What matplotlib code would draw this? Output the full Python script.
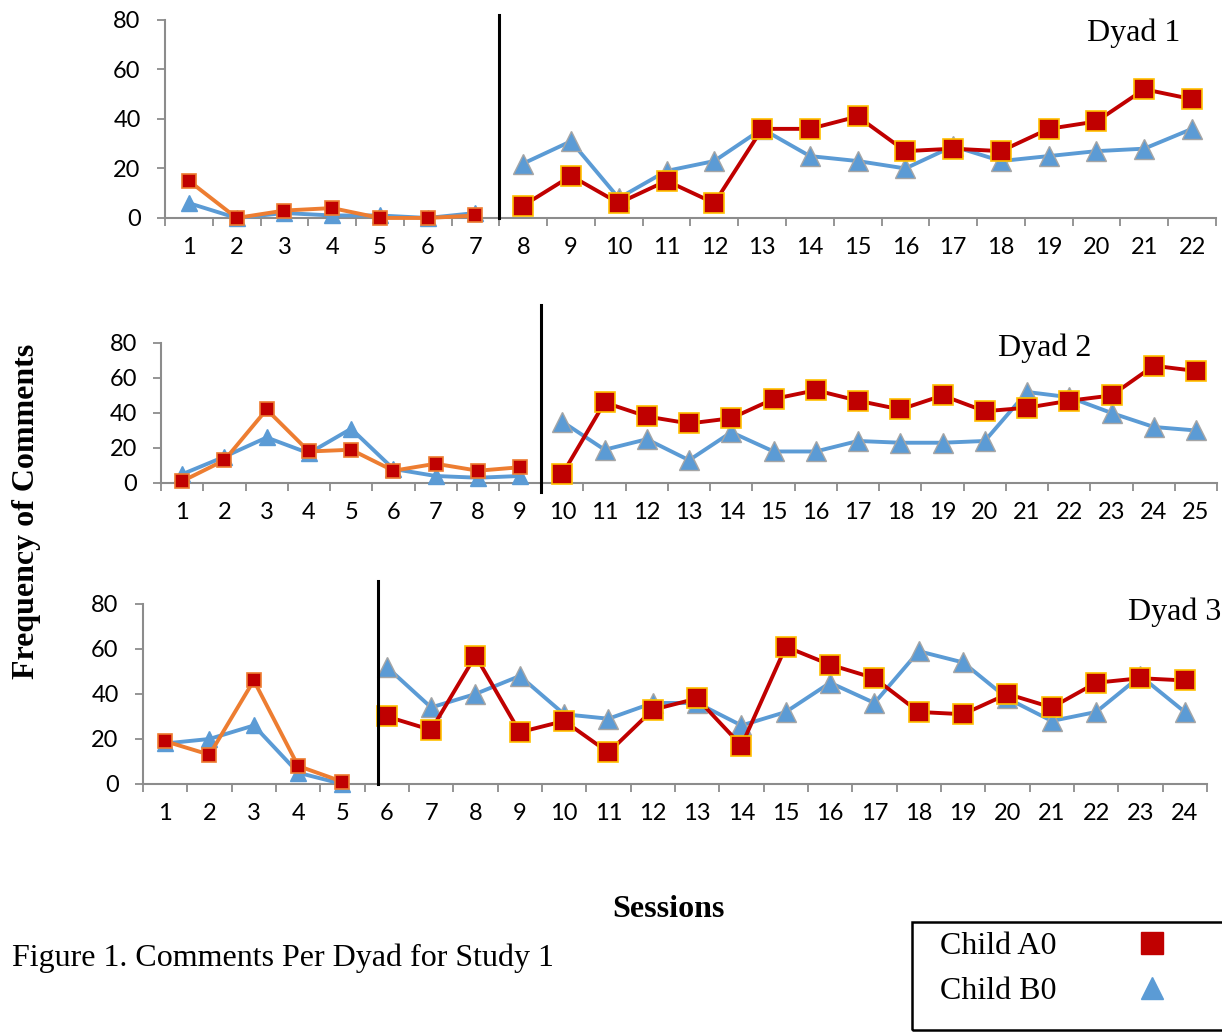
import matplotlib
matplotlib.use('Agg')
from matplotlib import pyplot as plt
from matplotlib.lines import Line2D
from matplotlib.patches import Rectangle
import numpy as np

# comments per session, child A (squares) and child B (triangles)
dyad1_a = [15, 0, 3, 4, 0, 0, 1, 5, 17, 6, 15, 6, 36, 36, 41, 27, 28, 27, 36, 39, 52, 48]
dyad1_b = [6, 0, 2, 1, 1, 0, 2, 22, 31, 8, 19, 23, 36, 25, 23, 20, 29, 23, 25, 27, 28, 36]
dyad2_a = [1, 13, 42, 18, 19, 7, 11, 7, 9, 5, 46, 38, 34, 37, 48, 53, 47, 42, 50, 41, 43, 47, 50, 67, 64]
dyad2_b = [5, 15, 26, 17, 31, 8, 4, 3, 4, 35, 19, 25, 13, 29, 18, 18, 24, 23, 23, 24, 52, 49, 40, 32, 30]
dyad3_a = [19, 13, 46, 8, 1, 30, 24, 57, 23, 28, 14, 33, 38, 17, 61, 53, 47, 32, 31, 40, 34, 45, 47, 46]
dyad3_b = [18, 20, 26, 5, 0, 52, 34, 40, 48, 31, 29, 36, 36, 26, 32, 45, 36, 59, 54, 38, 28, 32, 48, 32]

baseline_sessions = [7, 9, 5]
phase_change = [7.5, 9.5, 5.8]
dyad_names = ['Dyad 1', 'Dyad 2', 'Dyad 3']
series_names = ['Child A0', 'Child B0']

orange = '#ED7D31'
dark_red = '#C00000'
blue = '#5B9BD5'
gold = '#FFC000'
grey = '#8C8C8C'
serif = 'Liberation Serif'

plt.rcParams['font.family'] = ['Lato', 'DejaVu Sans']

fig = plt.figure(figsize=(12.22, 10.34), dpi=100)

# axes boxes in figure fraction
boxes = [
    [0.135, 0.7892, 0.860, 0.1915],
    [0.1318, 0.5329, 0.8642, 0.1354],
    [0.117, 0.2418, 0.8707, 0.1741],
]
# phase line extent (axes fraction) and dyad label position (figure fraction)
vline_span = [(0.0, 1.025), (-0.064, 1.27), (0.0, 1.13)]
label_pos = [(0.928, 0.968), (0.855, 0.663), (0.9615, 0.408)]

def draw_dyad(ax, a, b, n_base, split):
    a = np.array(a)
    b = np.array(b)
    x = np.arange(1, len(a) + 1)
    # baseline
    ax.plot(x[:n_base], b[:n_base], color=blue, lw=2.8, marker='^', ms=12,
            mfc=blue, mec=blue, clip_on=False, zorder=3)
    ax.plot(x[:n_base], a[:n_base], color=orange, lw=2.8, marker='s', ms=9.5,
            mfc=dark_red, mec=orange, mew=1.2, clip_on=False, zorder=4)
    # intervention
    ax.plot(x[n_base:], b[n_base:], color=blue, lw=2.8, marker='^', ms=14.5,
            mfc=blue, mec='#A5A5A5', mew=1, clip_on=False, zorder=3)
    ax.plot(x[n_base:], a[n_base:], color=dark_red, lw=2.8, marker='s', ms=14,
            mfc=dark_red, mec=gold, mew=1.2, clip_on=False, zorder=4)

    ax.set_xlim(0.5, len(a) + 0.5)
    ax.set_ylim(0, 80)
    ax.set_yticks([0, 20, 40, 60, 80])
    ax.set_xticks(x)
    ax.set_xticks(np.arange(0.5, len(a) + 1), minor=True)
    ax.tick_params(axis='x', which='major', length=0, pad=14, labelsize=17)
    ax.tick_params(axis='x', which='minor', length=5.5, width=1.3, color=grey)
    ax.tick_params(axis='y', length=5.5, width=1.3, color=grey, pad=12, labelsize=17)
    for s in ['top', 'right']:
        ax.spines[s].set_visible(False)
    for s in ['left', 'bottom']:
        ax.spines[s].set_color(grey)
        ax.spines[s].set_linewidth(1.5)
    return ax

all_a = [dyad1_a, dyad2_a, dyad3_a]
all_b = [dyad1_b, dyad2_b, dyad3_b]
for i in range(3):
    ax = fig.add_axes(boxes[i])
    draw_dyad(ax, all_a[i], all_b[i], baseline_sessions[i], phase_change[i])
    lo, hi = vline_span[i]
    ax.axvline(phase_change[i], ymin=lo, ymax=hi, color='black', lw=2.2, clip_on=False, zorder=5)
    fig.text(label_pos[i][0], label_pos[i][1], dyad_names[i], family=serif,
             fontsize=23, ha='center', va='center')

fig.text(0.022, 0.505, 'Frequency of Comments', family=serif, fontsize=23,
         fontweight='bold', rotation=90, ha='center', va='center')
fig.text(0.547, 0.120, 'Sessions', family=serif, fontsize=23, fontweight='bold',
         ha='center', va='center')
fig.text(0.010, 0.073, 'Figure 1. Comments Per Dyad for Study 1', family=serif,
         fontsize=23, ha='left', va='center')

# legend box
fig.add_artist(Rectangle((0.7463, 0.004), 0.27, 0.1044, transform=fig.transFigure,
                         fill=False, edgecolor='black', lw=1.8))
handles = [
    Line2D([], [], ls='none', marker='s', ms=15.5, mfc=dark_red, mec=dark_red),
    Line2D([], [], ls='none', marker='^', ms=16, mfc=blue, mec=blue),
]
fig.legend(handles, series_names, loc='upper left', bbox_to_anchor=(0.769, 0.099),
           frameon=False, markerfirst=False, borderpad=0, borderaxespad=0,
           handlelength=2.0, handletextpad=2.0, labelspacing=0.5,
           prop={'family': serif, 'size': 23})

fig.savefig('out.png', dpi=100)
